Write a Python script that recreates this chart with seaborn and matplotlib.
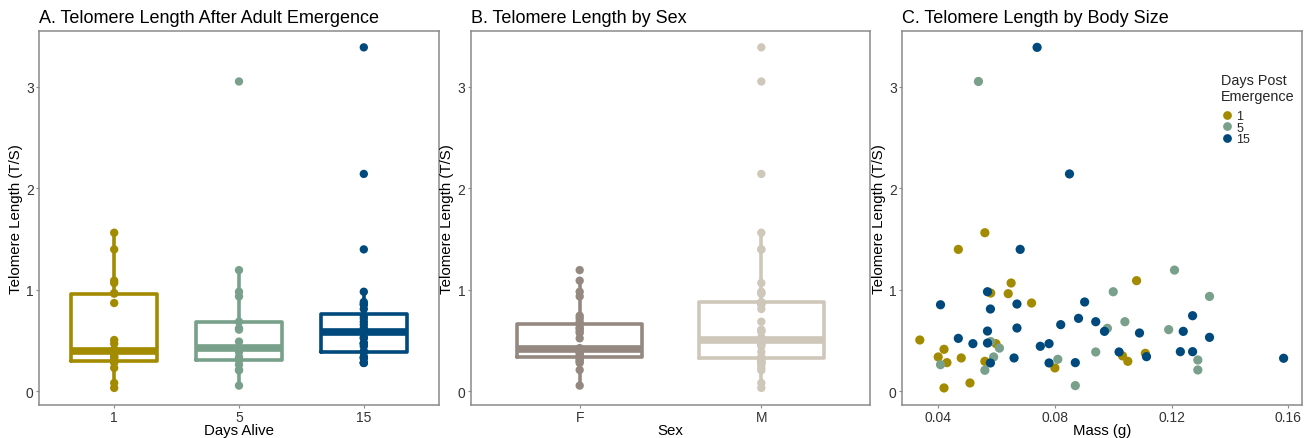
import matplotlib
matplotlib.use("Agg")
import matplotlib.pyplot as plt
import seaborn as sns
import pandas as pd
import numpy as np

# ---- data ----
mass_g = [
    # day 1
    0.042, 0.0509, 0.080, 0.043, 0.056, 0.105, 0.0479, 0.040, 0.1032, 0.111,
    0.042, 0.0598, 0.0337, 0.072, 0.064, 0.058, 0.065, 0.108, 0.0469, 0.056,
    # day 5
    0.087, 0.056, 0.129, 0.0408, 0.129, 0.081, 0.059, 0.094, 0.061, 0.058,
    0.119, 0.098, 0.104, 0.133, 0.100, 0.121, 0.0538,
    # day 15
    0.0579, 0.078, 0.087, 0.1584, 0.066, 0.1114, 0.102, 0.123, 0.1272, 0.075,
    0.0519, 0.078, 0.0569, 0.0469, 0.133, 0.109, 0.097, 0.124, 0.0569, 0.067,
    0.082, 0.094, 0.0881, 0.1272, 0.0579, 0.0408, 0.067, 0.0902, 0.0569, 0.0681,
    0.085, 0.0739,
]
telomere_ts = [
    # day 1
    0.033, 0.082, 0.23, 0.282, 0.295, 0.295, 0.328, 0.338, 0.348, 0.374,
    0.413, 0.469, 0.505, 0.869, 0.961, 0.967, 1.066, 1.089, 1.397, 1.561,
    # day 5
    0.056, 0.207, 0.21, 0.262, 0.308, 0.315, 0.338, 0.387, 0.425, 0.489,
    0.607, 0.62, 0.685, 0.934, 0.98, 1.193, 3.05,
    # day 15
    0.279, 0.279, 0.282, 0.325, 0.328, 0.341, 0.387, 0.39, 0.39, 0.443,
    0.469, 0.469, 0.475, 0.521, 0.531, 0.574, 0.59, 0.59, 0.593, 0.623,
    0.656, 0.685, 0.718, 0.744, 0.81, 0.852, 0.859, 0.879, 0.98, 1.397,
    2.14, 3.386,
]
days_post = ["1"] * 20 + ["5"] * 17 + ["15"] * 32
sex = [
    # day 1
    "M", "M", "M", "M", "F", "M", "M", "M", "F", "F",
    "F", "M", "M", "M", "M", "M", "M", "F", "M", "M",
    # day 5
    "F", "M", "F", "M", "F", "M", "F", "F", "F", "M",
    "M", "F", "M", "F", "F", "F", "M",
    # day 15
    "F", "M", "M", "F", "M", "F", "M", "F", "F", "M",
    "M", "M", "M", "F", "M", "F", "M", "M", "F", "F",
    "F", "F", "F", "F", "M", "M", "M", "M", "M", "M",
    "M", "M",
]
day_order = ["1", "5", "15"]
sex_order = ["F", "M"]
day_colors = ["#A38B00", "#78A08A", "#00497C"]
sex_colors = ["#948880", "#CEC7BA"]
y_ticks = [0, 1, 2, 3]
x_ticks_mass = [0.04, 0.08, 0.12, 0.16]

df = pd.DataFrame({"mass": mass_g, "tel": telomere_ts,
                   "days": days_post, "sex": sex})

sns.set_theme(style="white")
plt.rcParams["font.family"] = ["Liberation Sans", "DejaVu Sans"]

fig = plt.figure(figsize=(13.14, 4.39), dpi=100)
W, H = 1314, 439
def ax_at(l, r, t, b):
    return fig.add_axes([l / W, 1 - b / H, (r - l) / W, (b - t) / H])

axA = ax_at(39.3, 438.7, 31.7, 406)
axB = ax_at(470.7, 870.3, 31.7, 406)
axC = ax_at(902.3, 1302, 31.7, 406)

frame_col = "#8a8a8a"
tick_col = "#333333"
ylim = (-0.135, 3.55)

def style(ax, title, xlabel):
    for s in ax.spines.values():
        s.set_visible(True)
        s.set_color(frame_col)
        s.set_linewidth(1.1)
    ax.tick_params(axis="both", which="both", length=2.5, width=0.8,
                   color=frame_col, labelsize=10, labelcolor=tick_col,
                   left=True, bottom=True)
    ax.tick_params(axis="x", pad=1)
    ax.tick_params(axis="y", pad=1.5)
    ax.set_ylim(*ylim)
    ax.set_yticks(y_ticks)
    ax.set_ylabel("Telomere Length (T/S)", fontsize=10.8, color="black", labelpad=2)
    ax.set_xlabel(xlabel, fontsize=10.8, color="black", labelpad=-0.5)
    ax.set_title(title, loc="left", fontsize=13, color="black", pad=6)
    ax.grid(False)

def box_strip(ax, x, order, colors):
    pal = dict(zip(order, colors))
    sns.boxplot(data=df, x=x, y="tel", hue=x, order=order, hue_order=order,
                palette=pal, fill=False, width=0.69, linewidth=2.6,
                showfliers=False, showcaps=False, whis=1.5, dodge=False,
                medianprops=dict(linewidth=5.5), legend=False, ax=ax)
    sns.stripplot(data=df, x=x, y="tel", hue=x, order=order, hue_order=order,
                  palette=pal, jitter=False, size=6, linewidth=0,
                  legend=False, ax=ax, zorder=3)
    ax.set_xlim(-0.6, len(order) - 0.4)

box_strip(axA, "days", day_order, day_colors)
style(axA, "A. Telomere Length After Adult Emergence", "Days Alive")

box_strip(axB, "sex", sex_order, sex_colors)
style(axB, "B. Telomere Length by Sex", "Sex")

sns.scatterplot(data=df, x="mass", y="tel", hue="days", hue_order=day_order,
                palette=dict(zip(day_order, day_colors)), s=44, linewidth=0,
                ax=axC, zorder=3)
axC.set_xlim(0.0277, 0.1647)
axC.set_xticks(x_ticks_mass)
axC.set_xticklabels([f"{v:.2f}" for v in x_ticks_mass])
style(axC, "C. Telomere Length by Body Size", "Mass (g)")
leg = axC.legend(title="Days Post\nEmergence", loc="upper left",
                 bbox_to_anchor=(0.785, 0.9), frameon=False, fontsize=9,
                 title_fontsize=10.4, handletextpad=0.3, labelspacing=-0.05,
                 borderaxespad=0, markerscale=0.95, handlelength=0.9)
leg._legend_box.align = "left"
leg._legend_box.sep = 5

fig.savefig("out.png", dpi=100)
